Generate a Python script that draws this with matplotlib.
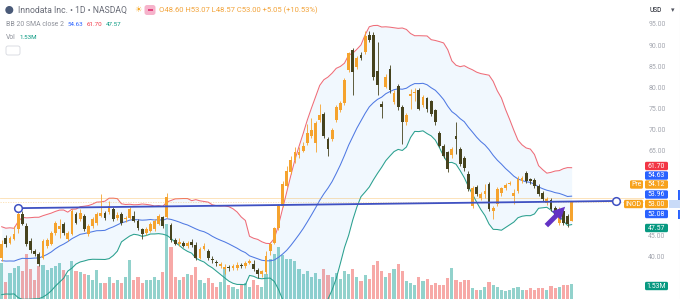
import numpy as np
import pandas as pd
import matplotlib
matplotlib.use('Agg')
import matplotlib.pyplot as plt
from matplotlib.patches import FancyBboxPatch, Rectangle

# ---------------- data ----------------
opens = [39.8, 44.6, 43.3, 44.3, 46.7, 50.2, 47.4, 43.8, 41.4, 40.7,
         39.8, 42.6, 43.1, 45.7, 46.7, 47.9, 44.3, 45.5, 50.2, 49.0,
         49.8, 45.5, 47.4, 48.1, 49.8, 50.5, 50.6, 51.4, 49.3, 50.2,
         49.1, 49.3, 49.8, 48.6, 46.7, 45.7, 46.2, 46.7, 47.9, 49.4,
         49.6, 47.5, 44.0, 43.1, 43.4, 42.6, 43.5, 42.8, 39.8, 42.0,
         41.4, 39.6, 38.8, 38.0, 37.1, 37.7, 37.4, 37.4, 38.1, 37.9,
         38.6, 38.3, 36.9, 35.9, 36.4, 41.4, 43.3, 46.9, 52.1, 56.9,
         60.2, 62.9, 64.3, 65.2, 67.0, 68.8, 67.1, 72.4, 74.0, 68.1,
         68.1, 72.4, 74.8, 76.4, 84.3, 89.1, 85.0, 87.9, 88.6, 92.6,
         92.6, 84.0, 76.2, 80.2, 84.5, 76.7, 80.5, 75.5, 71.9, 78.1,
         78.8, 79.5, 76.0, 77.6, 76.9, 74.8, 69.3, 66.4, 64.8, 64.3,
         68.6, 65.7, 63.6, 59.8, 52.1, 56.7, 54.0, 55.0, 57.4, 50.9,
         52.6, 55.2, 56.4, 57.4, 54.5, 55.7, 58.1, 60.0, 58.6, 58.3,
         56.9, 55.2, 52.9, 53.6, 51.7, 48.1, 51.0, 49.8, 48.60]
highs = [44.0, 45.3, 45.0, 47.4, 51.4, 51.0, 48.0, 44.5, 42.0, 41.2,
         44.3, 44.5, 46.3, 48.6, 49.1, 48.3, 46.2, 51.4, 50.6, 51.4,
         50.2, 47.8, 49.5, 50.6, 55.0, 51.0, 53.3, 51.9, 50.8, 50.6,
         49.8, 51.9, 51.0, 49.0, 47.0, 47.1, 48.3, 49.0, 50.2, 49.8,
         55.2, 48.0, 44.5, 44.6, 43.8, 43.8, 44.3, 43.5, 42.4, 43.4,
         42.0, 40.2, 39.3, 38.9, 38.4, 38.2, 38.3, 38.8, 38.6, 39.1,
         39.6, 39.3, 37.3, 37.0, 41.4, 43.5, 47.2, 52.6, 58.0, 61.5,
         64.0, 66.0, 66.2, 67.2, 71.5, 72.9, 72.3, 76.2, 74.5, 68.5,
         70.5, 76.0, 76.9, 82.4, 88.6, 89.5, 87.6, 88.5, 93.5, 93.6,
         93.3, 91.0, 77.0, 83.5, 85.5, 79.5, 81.0, 76.0, 74.1, 79.9,
         80.0, 80.0, 78.3, 78.0, 77.3, 75.2, 70.0, 66.9, 65.2, 66.0,
         71.9, 66.2, 64.0, 60.3, 56.9, 57.2, 55.5, 57.4, 57.9, 52.1,
         56.7, 56.7, 57.6, 58.1, 56.2, 59.1, 59.3, 60.5, 58.8, 58.8,
         57.4, 55.7, 54.3, 54.0, 52.1, 51.9, 51.4, 50.2, 53.07]
lows = [39.0, 42.5, 43.0, 44.0, 45.8, 47.5, 42.6, 41.0, 40.2, 37.8,
        39.5, 42.2, 42.8, 45.3, 44.6, 45.3, 43.9, 45.2, 47.8, 48.6,
        46.3, 45.0, 47.0, 47.6, 49.4, 48.9, 50.3, 48.6, 48.8, 47.6,
        48.3, 49.0, 48.2, 46.5, 44.3, 45.3, 45.9, 46.3, 47.5, 46.9,
        49.3, 43.5, 42.8, 42.7, 42.3, 42.2, 42.4, 39.4, 39.5, 41.6,
        39.3, 38.7, 38.0, 37.5, 36.0, 36.8, 37.0, 37.0, 37.5, 37.5,
        38.3, 36.8, 35.0, 35.3, 36.0, 40.5, 43.0, 46.5, 51.8, 56.5,
        59.6, 62.3, 63.5, 64.8, 66.5, 68.3, 64.8, 72.0, 68.3, 64.0,
        67.5, 72.0, 74.3, 76.0, 83.8, 78.3, 84.5, 86.7, 88.2, 91.0,
        82.0, 78.5, 72.9, 80.0, 79.0, 76.2, 74.8, 66.9, 71.4, 75.2,
        77.1, 74.8, 75.5, 74.5, 73.5, 71.4, 66.0, 63.6, 60.2, 63.5,
        64.5, 61.6, 60.5, 55.7, 51.7, 54.5, 53.5, 54.0, 50.9, 49.0,
        52.1, 54.5, 56.0, 57.0, 52.6, 55.2, 57.6, 57.6, 57.4, 56.4,
        54.5, 53.3, 52.4, 50.9, 49.3, 47.6, 47.6, 47.1, 48.57]
closes = [43.1, 43.0, 44.5, 45.5, 50.2, 47.9, 43.0, 41.6, 40.7, 38.3,
          43.8, 44.1, 45.7, 48.1, 47.4, 45.7, 45.7, 51.0, 48.1, 50.5,
          46.7, 47.4, 49.0, 50.2, 50.5, 49.3, 52.1, 49.0, 50.0, 48.1,
          49.3, 51.4, 48.6, 46.9, 45.5, 46.7, 47.9, 48.6, 49.8, 47.4,
          54.3, 44.0, 43.1, 43.6, 42.6, 43.3, 42.9, 39.8, 41.9, 42.6,
          39.8, 39.2, 38.5, 38.3, 37.7, 37.3, 37.8, 38.2, 37.9, 38.5,
          39.0, 37.1, 35.9, 36.6, 40.2, 43.1, 46.9, 52.1, 57.4, 60.5,
          62.9, 64.8, 65.0, 66.4, 69.3, 70.0, 71.7, 73.6, 68.8, 65.7,
          70.0, 75.5, 76.4, 81.9, 88.3, 83.8, 87.1, 87.1, 92.3, 91.4,
          82.6, 80.7, 75.5, 82.6, 79.5, 79.0, 75.5, 71.9, 73.6, 78.6,
          79.1, 75.2, 77.9, 75.0, 74.0, 71.9, 66.4, 64.0, 60.9, 65.5,
          68.1, 62.1, 61.0, 56.2, 56.4, 55.0, 55.0, 55.7, 51.4, 51.6,
          56.2, 56.4, 57.1, 57.6, 55.2, 58.6, 58.8, 58.1, 58.1, 56.9,
          55.0, 53.8, 53.8, 51.4, 49.8, 51.4, 48.1, 47.95, 53.00]
volumes_m = [3.6, 1.7, 2.6, 3.1, 3.3, 2.8, 4.5, 3.0, 1.9, 3.3,
             3.4, 2.9, 3.1, 3.3, 3.6, 2.9, 2.4, 3.8, 2.8, 2.7,
             2.5, 2.4, 1.9, 2.9, 1.6, 1.6, 2.2, 1.6, 1.9, 1.6,
             2.2, 3.9, 1.9, 2.2, 1.6, 1.9, 1.9, 2.2, 1.9, 2.7,
             7.5, 5.2, 2.2, 1.9, 2.2, 2.5, 2.4, 3.2, 1.9, 1.6,
             2.1, 1.6, 1.2, 1.7, 3.2, 1.4, 1.2, 1.0, 1.4, 1.6,
             1.2, 1.9, 1.4, 1.2, 2.5, 4.0, 4.5, 5.2, 4.4, 4.0,
             4.0, 3.8, 3.0, 2.5, 2.8, 2.2, 2.6, 2.0, 3.0, 2.4,
             2.2, 2.6, 2.0, 2.8, 2.5, 3.0, 2.2, 1.8, 2.4, 2.0,
             3.4, 3.8, 2.8, 2.2, 2.6, 3.0, 3.5, 2.8, 1.8, 1.6,
             1.4, 2.2, 1.8, 2.0, 1.4, 1.6, 1.4, 1.4, 2.1, 3.1,
             1.9, 1.7, 1.9, 1.9, 1.1, 0.9, 0.9, 1.2, 1.7, 1.4,
             1.2, 0.9, 0.8, 0.9, 1.1, 1.2, 0.9, 0.9, 1.1, 0.9,
             1.1, 1.1, 0.9, 1.3, 1.1, 1.2, 1.4, 1.4, 1.53]
# closes of the 19 sessions before the visible window (feed the 20-day bands)
pre_closes = [45, 44, 46, 43, 42, 44, 41, 39, 38, 36,
              35, 34, 33, 35, 36, 34, 37, 38, 40]

price_ticks = [95, 90, 85, 80, 75, 70, 65, 45, 40]
tick_labels = ["95.00", "90.00", "85.00", "80.00", "75.00", "70.00", "65.00", "45.00", "40.00"]

# right-scale badges: (text, colour, centre y px)
badges = [("61.70", "#f23645", 166), ("54.63", "#2962ff", 175.5), ("54.12", "#f7a21b", 184.5),
          ("53.96", "#2962ff", 194.5), ("53.00", "#f7a21b", 204), ("52.08", "#2962ff", 214),
          ("47.57", "#089981", 228), ("1.53M", "#089981", 286)]

# trend line drawn by the user (bar index, price)
trend_x = [4.0, 148.7]
trend_y = [51.6, 53.3]
# arrow drawing (bar index, price)
arrow_from = (131.4, 47.0)
arrow_to = (136.9, 52.4)
pre_price = 54.12
last_price = 53.00

# ---------------- figure ----------------
W, H = 680, 299
fig = plt.figure(figsize=(W / 100, H / 100), dpi=100)
fig.patch.set_facecolor('white')
FONT = ['Roboto', 'DejaVu Sans']

CH_R = 644
pos = [0, 0, CH_R / W, 1]
axv = fig.add_axes(pos)
ax = fig.add_axes(pos, sharex=axv)
ax.patch.set_visible(False)
axv.set_axis_off()
ax.set_axis_off()

n = len(closes)
idx = np.arange(n)
step_px, x0_px = 4.13, 1.7
ax.set_xlim(-x0_px / step_px, (CH_R - x0_px) / step_px)
PX = 4.22
ax.set_ylim(95 - (H - 25) / PX, 95 + 25 / PX)
axv.set_ylim(0, H / 10.0)

o = np.array(opens); c = np.array(closes); hi = np.array(highs); lo = np.array(lows)
up = c >= o

# volume
vcol = np.where(up, '#92d2cc', '#f7a9a7')
axv.bar(idx, volumes_m, width=0.76, color=vcol, linewidth=0)

# bollinger bands
s = pd.Series(list(pre_closes) + list(closes), dtype=float)
mid = s.rolling(20).mean().to_numpy()[-n:]
sd = s.rolling(20).std(ddof=0).to_numpy()[-n:]
upper = mid + 2 * sd
lower = mid - 2 * sd
ax.fill_between(idx, lower, upper, color=(0.13, 0.59, 0.95, 0.06), linewidth=0, zorder=1)
ax.plot(idx, upper, color='#ee6c78', lw=0.75, zorder=2)
ax.plot(idx, mid, color='#4f79e3', lw=0.75, zorder=2)
ax.plot(idx, lower, color='#2aa08e', lw=0.75, zorder=2)

# price lines
ax.axhline(pre_price, color='#f7a21b', lw=0.6, alpha=0.35, zorder=2)
ax.axhline(last_price, color='#f7a21b', lw=0.6, alpha=0.35, ls=(0, (1.5, 1.5)), zorder=2)

# candles
UPC, DNC = '#f5a32e', '#46431e'
ccol = np.where(up, UPC, DNC)
ax.vlines(idx, lo, hi, colors=ccol, lw=0.6, zorder=3)
body = np.maximum(np.abs(c - o), 0.18)
ax.bar(idx, body, bottom=np.minimum(o, c), width=0.68, color=ccol, linewidth=0, zorder=4)

# trend line
ax.plot(trend_x, trend_y, color='#3f51c2', lw=1.3, zorder=5, clip_on=False)
ax.plot(trend_x, trend_y, 'o', ms=5.5, mfc='white', mec='#3f51c2', mew=1.1, zorder=6, clip_on=False)

# arrow
ax.annotate('', xy=arrow_to, xytext=arrow_from, zorder=7,
            arrowprops=dict(arrowstyle='simple,head_length=0.9,head_width=0.9,tail_width=0.35',
                            color='#6232c4', lw=0))

# ---------------- overlay (pixel coords) ----------------
ov = fig.add_axes([0, 0, 1, 1], zorder=10)
ov.set_xlim(0, W); ov.set_ylim(H, 0); ov.set_axis_off(); ov.patch.set_visible(False)
renderer = fig.canvas.get_renderer()


def ptext(x, y, s, color, size, ha='left', target_w=None, family=FONT, weight='normal'):
    t = ov.text(x, y, s, color=color, fontsize=size, ha=ha, va='center', family=family, fontweight=weight)
    if target_w:
        w = t.get_window_extent(renderer).width
        t.set_fontsize(size * target_w / w)
    return t

# header line 1
ov.add_patch(plt.Circle((9.3, 10), 3.3, color='#4a5a78'))
ptext(18, 10, "Innodata Inc. • 1D • NASDAQ", '#6a6d78', 6, target_w=110)
ptext(138.5, 10, "☀", '#f5a623', 6, ha='center', family=['DejaVu Sans'])
ov.add_patch(FancyBboxPatch((144.5, 5), 11, 10, boxstyle='round,pad=0,rounding_size=2.5', fc='#f6b3cb', ec='none'))
ov.add_patch(Rectangle((147.5, 8.7), 5, 2.6, fc='#e2437e', ec='none'))
ptext(159, 10, "O48.60 H53.07 L48.57 C53.00 +5.05 (+10.53%)", '#f2a33a', 5, target_w=160)

# header line 2
t = ptext(6, 24, "BB 20 SMA close 2", '#8f929b', 4.8, target_w=57)
fs2 = t.get_fontsize()
fsv = fs2 * 0.92
ptext(67.5, 24, "54.63", '#2962ff', fsv)
ptext(86.5, 24, "61.70", '#f23645', fsv)
ptext(105.5, 24, "47.57", '#089981', fsv)
# header line 3
ptext(6, 37.5, "Vol", '#8f929b', fs2)
ptext(19.5, 37.5, "1.53M", '#089981', fsv)
ov.add_patch(FancyBboxPatch((6, 46), 14, 9, boxstyle='round,pad=0,rounding_size=2', fc='white', ec='#d6d8de', lw=0.6))

# right scale
ov.plot([679.5, 679.5], [0, H], color='#e6e7ea', lw=0.8)
ptext(649, 10.5, "USD", '#131722', 4.8)
ptext(673, 10.5, "▾", '#50535e', 5, ha='center', family=['DejaVu Sans'])
for p, lab in zip(price_ticks, tick_labels):
    yp = 25 + (95 - p) * PX
    ptext(657, yp, lab, '#a4a7b0', fs2, ha='center')

for txt, col, yc in badges:
    ov.add_patch(FancyBboxPatch((645, yc - 4.2), 23, 8.4, boxstyle='round,pad=0,rounding_size=1.5', fc=col, ec='none'))
    ptext(656.5, yc, txt, 'white', fs2, ha='center')

# symbol / pre badges
ov.add_patch(FancyBboxPatch((630, 184.5 - 4.2), 13, 8.4, boxstyle='round,pad=0,rounding_size=1.5', fc='#f7a21b', ec='none'))
ptext(636.5, 184.5, "Pre", 'white', fs2, ha='center')
ov.add_patch(FancyBboxPatch((624, 204 - 4.2), 19, 8.4, boxstyle='round,pad=0,rounding_size=1.5', fc='#f7a21b', ec='none'))
ptext(633.5, 204, "INOD", 'white', fs2, ha='center')
ov.add_patch(Rectangle((668.5, 200), 11, 8, fc='#c9dbf8', ec='none'))
ov.add_patch(Rectangle((677.5, 190), 2, 9.5, fc='#2962ff', ec='none'))
ov.add_patch(Rectangle((677.5, 209.5), 2, 9.5, fc='#2962ff', ec='none'))

fig.savefig('out.png', dpi=100, facecolor='white')
